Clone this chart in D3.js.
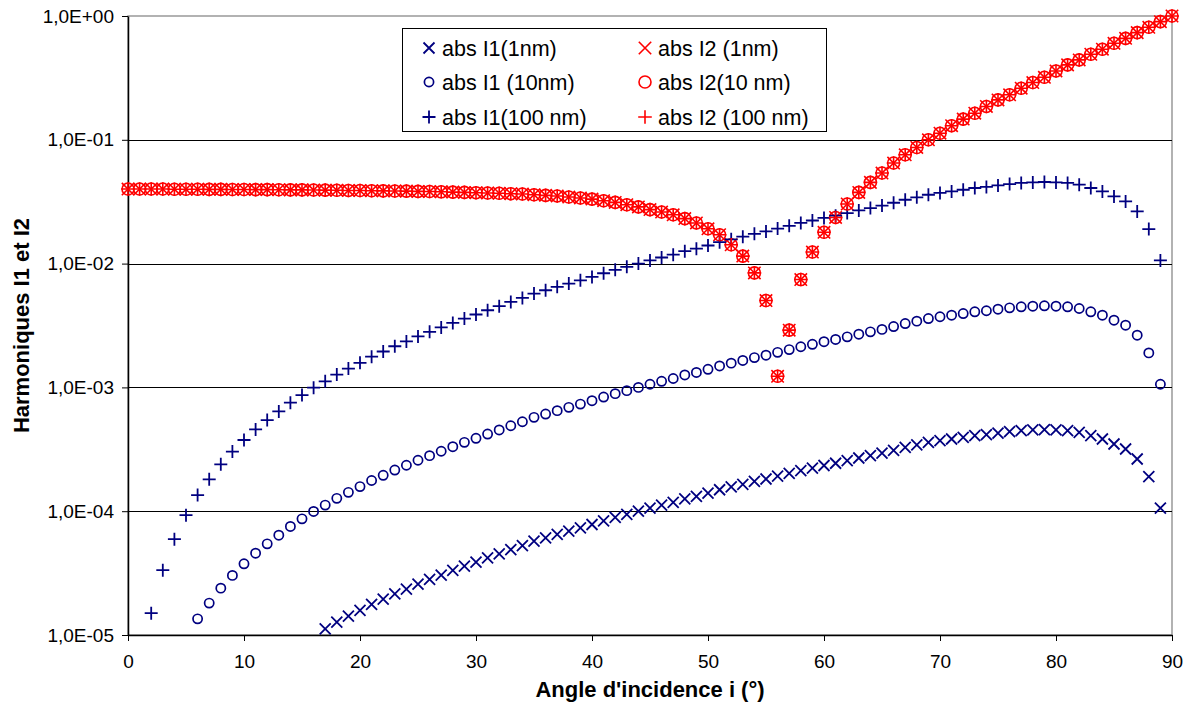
<!DOCTYPE html>
<html><head><meta charset="utf-8">
<script src="https://cdn.jsdelivr.net/npm/d3@7/dist/d3.min.js"></script>
<style>
html,body{margin:0;padding:0;background:#fff;}
svg{display:block;font-family:"Liberation Sans",Arial,sans-serif;}
</style></head>
<body>
<svg id="chart" width="1190" height="713"></svg>
<script>
const angles = [0,1,2,3,4,5,6,7,8,9,10,11,12,13,14,15,16,17,18,19,20,21,22,23,24,25,26,27,28,29,30,31,32,33,34,35,36,37,38,39,40,41,42,43,44,45,46,47,48,49,50,51,52,53,54,55,56,57,58,59,60,61,62,63,64,65,66,67,68,69,70,71,72,73,74,75,76,77,78,79,80,81,82,83,84,85,86,87,88,89,90];

const absI1_100nm = [null,null,1.50e-5,3.34e-5,5.94e-5,9.29e-5,1.35e-4,1.81e-4,2.39e-4,3.03e-4,3.76e-4,4.58e-4,5.45e-4,6.40e-4,7.53e-4,8.67e-4,9.95e-4,1.12e-3,1.27e-3,1.42e-3,1.58e-3,1.77e-3,1.95e-3,2.15e-3,2.35e-3,2.58e-3,2.81e-3,3.05e-3,3.32e-3,3.60e-3,3.88e-3,4.20e-3,4.53e-3,4.90e-3,5.28e-3,5.73e-3,6.09e-3,6.49e-3,6.90e-3,7.33e-3,7.81e-3,8.36e-3,8.90e-3,9.41e-3,1.00e-2,1.06e-2,1.12e-2,1.18e-2,1.26e-2,1.32e-2,1.40e-2,1.49e-2,1.57e-2,1.65e-2,1.74e-2,1.82e-2,1.92e-2,2.02e-2,2.13e-2,2.23e-2,2.34e-2,2.44e-2,2.56e-2,2.69e-2,2.81e-2,2.94e-2,3.10e-2,3.28e-2,3.43e-2,3.60e-2,3.72e-2,3.83e-2,3.95e-2,4.08e-2,4.16e-2,4.28e-2,4.39e-2,4.48e-2,4.53e-2,4.56e-2,4.53e-2,4.48e-2,4.34e-2,4.08e-2,3.83e-2,3.49e-2,3.18e-2,2.64e-2,1.90e-2,1.06e-2,null];

const absI1_10nm = [null,null,null,null,null,null,1.35e-5,1.81e-5,2.39e-5,3.03e-5,3.76e-5,4.58e-5,5.45e-5,6.40e-5,7.53e-5,8.67e-5,9.95e-5,1.12e-4,1.27e-4,1.42e-4,1.58e-4,1.77e-4,1.95e-4,2.15e-4,2.35e-4,2.58e-4,2.81e-4,3.05e-4,3.32e-4,3.60e-4,3.88e-4,4.20e-4,4.53e-4,4.90e-4,5.28e-4,5.73e-4,6.09e-4,6.49e-4,6.90e-4,7.33e-4,7.81e-4,8.36e-4,8.90e-4,9.41e-4,1.00e-3,1.06e-3,1.12e-3,1.18e-3,1.26e-3,1.32e-3,1.40e-3,1.49e-3,1.57e-3,1.65e-3,1.74e-3,1.82e-3,1.92e-3,2.02e-3,2.13e-3,2.23e-3,2.34e-3,2.44e-3,2.56e-3,2.69e-3,2.81e-3,2.94e-3,3.10e-3,3.28e-3,3.43e-3,3.60e-3,3.72e-3,3.83e-3,3.95e-3,4.08e-3,4.16e-3,4.28e-3,4.39e-3,4.48e-3,4.53e-3,4.56e-3,4.53e-3,4.48e-3,4.34e-3,4.08e-3,3.83e-3,3.49e-3,3.18e-3,2.64e-3,1.90e-3,1.06e-3,null];

const absI1_1nm = [null,null,null,null,null,null,null,null,null,null,null,null,null,null,null,null,null,1.12e-5,1.27e-5,1.42e-5,1.58e-5,1.77e-5,1.95e-5,2.15e-5,2.35e-5,2.58e-5,2.81e-5,3.05e-5,3.32e-5,3.60e-5,3.88e-5,4.20e-5,4.53e-5,4.90e-5,5.28e-5,5.73e-5,6.09e-5,6.49e-5,6.90e-5,7.33e-5,7.81e-5,8.36e-5,8.90e-5,9.41e-5,1.00e-4,1.06e-4,1.12e-4,1.18e-4,1.26e-4,1.32e-4,1.40e-4,1.49e-4,1.57e-4,1.65e-4,1.74e-4,1.82e-4,1.92e-4,2.02e-4,2.13e-4,2.23e-4,2.34e-4,2.44e-4,2.56e-4,2.69e-4,2.81e-4,2.94e-4,3.10e-4,3.28e-4,3.43e-4,3.60e-4,3.72e-4,3.83e-4,3.95e-4,4.08e-4,4.16e-4,4.28e-4,4.39e-4,4.48e-4,4.53e-4,4.56e-4,4.53e-4,4.48e-4,4.34e-4,4.08e-4,3.83e-4,3.49e-4,3.18e-4,2.64e-4,1.90e-4,1.06e-4,null];

// I2 is identical for the three thicknesses (markers overlap)
const absI2_1nm = [0.0400,0.0400,0.0400,0.0400,0.0399,0.0399,0.0399,0.0398,0.0398,0.0397,0.0397,0.0396,0.0396,0.0395,0.0394,0.0394,0.0393,0.0392,0.0391,0.0390,0.0389,0.0388,0.0387,0.0386,0.0385,0.0383,0.0382,0.0380,0.0378,0.0376,0.0374,0.0372,0.0370,0.0367,0.0365,0.0360,0.0356,0.0352,0.0345,0.0339,0.0332,0.0322,0.0312,0.0299,0.0287,0.0273,0.0261,0.0248,0.0231,0.0213,0.0191,0.0171,0.0142,0.0115,0.00841,0.00503,0.00123,0.00290,0.00743,0.0124,0.0179,0.0236,0.0303,0.0376,0.0453,0.0539,0.0649,0.0757,0.0867,0.100,0.113,0.130,0.147,0.164,0.186,0.210,0.231,0.261,0.290,0.320,0.360,0.403,0.442,0.491,0.539,0.602,0.660,0.734,0.811,0.900,1.000];
const absI2_10nm = [0.0400,0.0400,0.0400,0.0400,0.0399,0.0399,0.0399,0.0398,0.0398,0.0397,0.0397,0.0396,0.0396,0.0395,0.0394,0.0394,0.0393,0.0392,0.0391,0.0390,0.0389,0.0388,0.0387,0.0386,0.0385,0.0383,0.0382,0.0380,0.0378,0.0376,0.0374,0.0372,0.0370,0.0367,0.0365,0.0360,0.0356,0.0352,0.0345,0.0339,0.0332,0.0322,0.0312,0.0299,0.0287,0.0273,0.0261,0.0248,0.0231,0.0213,0.0191,0.0171,0.0142,0.0115,0.00841,0.00503,0.00123,0.00290,0.00743,0.0124,0.0179,0.0236,0.0303,0.0376,0.0453,0.0539,0.0649,0.0757,0.0867,0.100,0.113,0.130,0.147,0.164,0.186,0.210,0.231,0.261,0.290,0.320,0.360,0.403,0.442,0.491,0.539,0.602,0.660,0.734,0.811,0.900,1.000];
const absI2_100nm = [0.0400,0.0400,0.0400,0.0400,0.0399,0.0399,0.0399,0.0398,0.0398,0.0397,0.0397,0.0396,0.0396,0.0395,0.0394,0.0394,0.0393,0.0392,0.0391,0.0390,0.0389,0.0388,0.0387,0.0386,0.0385,0.0383,0.0382,0.0380,0.0378,0.0376,0.0374,0.0372,0.0370,0.0367,0.0365,0.0360,0.0356,0.0352,0.0345,0.0339,0.0332,0.0322,0.0312,0.0299,0.0287,0.0273,0.0261,0.0248,0.0231,0.0213,0.0191,0.0171,0.0142,0.0115,0.00841,0.00503,0.00123,0.00290,0.00743,0.0124,0.0179,0.0236,0.0303,0.0376,0.0453,0.0539,0.0649,0.0757,0.0867,0.100,0.113,0.130,0.147,0.164,0.186,0.210,0.231,0.261,0.290,0.320,0.360,0.403,0.442,0.491,0.539,0.602,0.660,0.734,0.811,0.900,1.000];

const yTickValues = [1e-5,1e-4,1e-3,1e-2,1e-1,1];
const yTickLabels = ["1,0E-05","1,0E-04","1,0E-03","1,0E-02","1,0E-01","1,0E+00"];
const xTickValues = [0,10,20,30,40,50,60,70,80,90];
const xTitle = "Angle d'incidence i (°)";
const yTitle = "Harmoniques I1 et I2";

const NAVY = "#000080", RED = "#FF0000";
// series in Excel drawing order (legend is filled row by row)
const series = [
  {name:"abs I1(1nm)",     values:absI1_1nm,   color:NAVY, shape:"x", col:0, row:0},
  {name:"abs I2 (1nm)",    values:absI2_1nm,   color:RED,  shape:"x", col:1, row:0},
  {name:"abs I1 (10nm)",   values:absI1_10nm,  color:NAVY, shape:"o", col:0, row:1},
  {name:"abs I2(10 nm)",   values:absI2_10nm,  color:RED,  shape:"o", col:1, row:1},
  {name:"abs I1(100 nm)",  values:absI1_100nm, color:NAVY, shape:"+", col:0, row:2},
  {name:"abs I2 (100 nm)", values:absI2_100nm, color:RED,  shape:"+", col:1, row:2}
];

const svg = d3.select("#chart");
const L = 128, R = 1172, T = 16, B = 635;
const x = d3.scaleLinear().domain([0,90]).range([L,R]);
const y = d3.scaleLog().domain([1e-5,1]).range([B,T]);

// plot area border
svg.append("rect").attr("x",L).attr("y",T).attr("width",R-L).attr("height",B-T)
  .attr("fill","none").attr("stroke","#999").attr("stroke-width",1.5);

// gridlines
svg.append("g").selectAll("line").data(yTickValues.filter(v=>v>1e-5 && v<1)).join("line")
  .attr("x1",L).attr("x2",R).attr("y1",d=>Math.round(y(d))+0.5).attr("y2",d=>Math.round(y(d))+0.5)
  .attr("stroke","#000").attr("stroke-width",1);

// axes
const yAxis = d3.axisLeft(y).tickValues(yTickValues)
  .tickFormat((d,i)=>yTickLabels[i]).tickSizeOuter(0).tickSizeInner(6).tickPadding(8);
const gy = svg.append("g").attr("transform",`translate(${L},0)`).call(yAxis);
gy.select(".domain").attr("stroke","#000").attr("stroke-width",1.5);
gy.selectAll(".tick line").attr("stroke","#000");
gy.selectAll(".tick text").attr("font-size",19).attr("fill","#000")
  .attr("font-family","'Liberation Sans',Arial,sans-serif");

const xAxis = d3.axisBottom(x).tickValues(xTickValues).tickSizeOuter(0).tickSizeInner(6).tickPadding(14);
const gx = svg.append("g").attr("transform",`translate(0,${B})`).call(xAxis);
gx.select(".domain").attr("stroke","#000").attr("stroke-width",1.5);
gx.selectAll(".tick line").attr("stroke","#000");
gx.selectAll(".tick text").attr("font-size",19).attr("fill","#000")
  .attr("font-family","'Liberation Sans',Arial,sans-serif");

// markers
function markerPath(shape, h){
  if(shape==="x") return `M${-h},${-h}L${h},${h}M${-h},${h}L${h},${-h}`;
  if(shape==="+") return `M${-h},0L${h},0M0,${-h}L0,${h}`;
  return null;
}
function drawMarker(g, s, cx, cy){
  const red = s.color===RED;
  if(s.shape==="o"){
    g.append("circle").attr("cx",cx).attr("cy",cy).attr("r",red?6:4.6)
      .attr("fill","none").attr("stroke",s.color).attr("stroke-width",red?1.6:1.7);
  } else {
    const h = s.shape==="x" ? (red?6.2:5.5) : (red?6.8:6.5);
    g.append("path").attr("transform",`translate(${cx},${cy})`)
      .attr("d",markerPath(s.shape,h)).attr("fill","none")
      .attr("stroke",s.color).attr("stroke-width",red?1.6:1.8);
  }
}

series.forEach(s=>{
  const g = svg.append("g").attr("class","series");
  angles.forEach((a,i)=>{
    const v = s.values[i];
    if(v==null || v<1e-5) return;
    drawMarker(g, s, x(a), y(v));
  });
});

// legend
const lg = svg.append("g");
lg.append("rect").attr("x",402.5).attr("y",28.5).attr("width",424).attr("height",103)
  .attr("fill","#fff").attr("stroke","#000").attr("stroke-width",1);
const colX = [429, 645], rowY = [48, 82, 117];
series.forEach(s=>{
  drawMarker(lg, s, colX[s.col], rowY[s.row]);
  lg.append("text").attr("x",colX[s.col]+13).attr("y",rowY[s.row]+7.5)
    .attr("font-size",21.5).attr("fill","#000").text(s.name);
});

// titles
svg.append("text").attr("x",(L+R)/2).attr("y",697).attr("text-anchor","middle")
  .attr("font-size",22).attr("font-weight","bold").text(xTitle);
svg.append("text").attr("transform",`translate(29,${(T+B)/2}) rotate(-90)`)
  .attr("text-anchor","middle").attr("font-size",22).attr("font-weight","bold").text(yTitle);
</script>
</body></html>
